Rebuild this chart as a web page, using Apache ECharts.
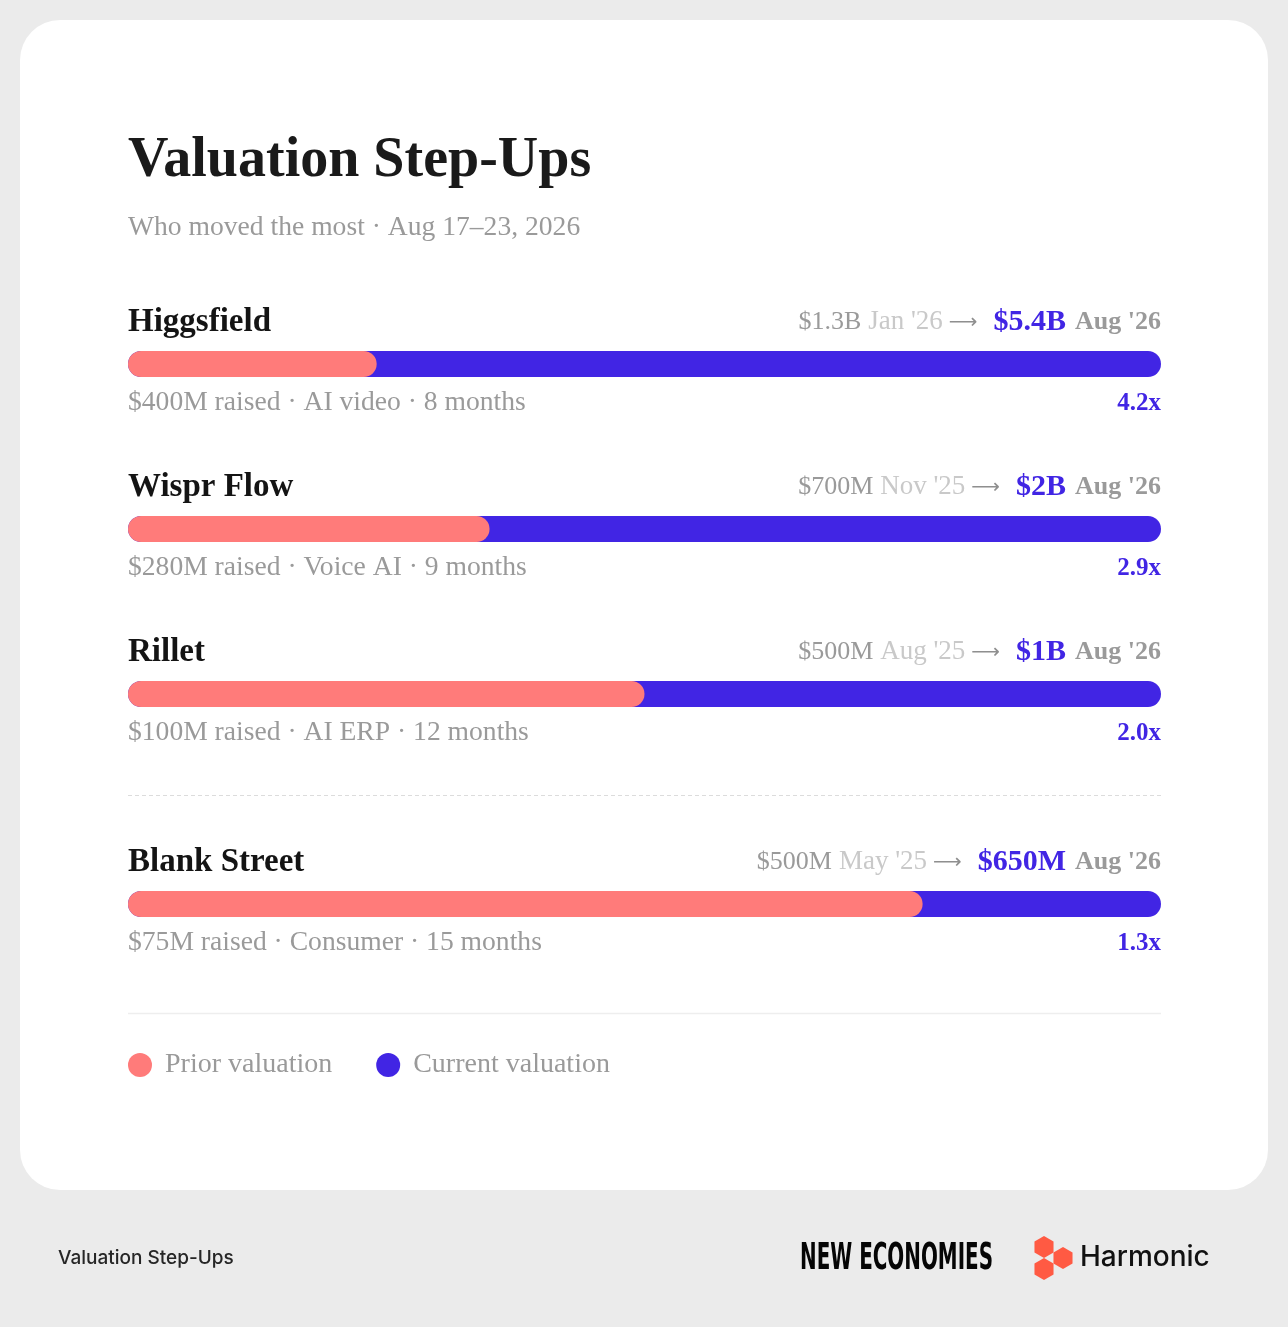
<!DOCTYPE html>
<html>
<head>
<meta charset="utf-8">
<script src="https://cdn.jsdelivr.net/npm/echarts@6/dist/echarts.min.js"></script>
<style>
  html, body { margin: 0; padding: 0; background: #ebebeb; }
  #chart { width: 1288px; height: 1327px; }
</style>
</head>
<body>
<div id="chart"></div>
<script>
// ---- Data ----
const companies = ['Higgsfield', 'Wispr Flow', 'Rillet', 'Blank Street'];
const priorValues = [1300, 700, 500, 500];      // $M
const currentValues = [5400, 2000, 1000, 650];  // $M
const priorDates = ["Jan '26", "Nov '25", "Aug '25", "May '25"];
const currentDates = ["Aug '26", "Aug '26", "Aug '26", "Aug '26"];
const raisedAmounts = ['$400M', '$280M', '$100M', '$75M'];
const sectors = ['AI video', 'Voice AI', 'AI ERP', 'Consumer'];
const monthsBetween = [8, 9, 12, 15];
const legendNames = ['Prior valuation', 'Current valuation'];
const titleText = 'Valuation Step-Ups';
const subtitleText = 'Who moved the most · Aug 17–23, 2026';

// ---- Style ----
const CORAL = '#FF7B7A';
const BLUE = '#4125E4';
const SERIF = '"Liberation Serif", "Times New Roman", serif';
const SANS = 'Inter, "Liberation Sans", Arial, sans-serif';
const LEFT = 128, RIGHT_X = 1161, BAR_H = 26;

function fmtMoney(v) { return v >= 1000 ? '$' + (v / 1000) + 'B' : '$' + v + 'M'; }
function barTop(i) { return 351 + i * 165 + (i >= 3 ? 45 : 0); }

const chart = echarts.init(document.getElementById('chart'), null, { renderer: 'canvas' });

const grids = [], xAxes = [], yAxes = [], series = [];
companies.forEach((c, i) => {
  grids.push({ left: LEFT, width: RIGHT_X - LEFT, top: barTop(i), height: BAR_H });
  xAxes.push({ type: 'value', gridIndex: i, min: 0, max: currentValues[i], show: false });
  yAxes.push({ type: 'category', gridIndex: i, data: [c], show: false });
  series.push({
    type: 'bar', name: legendNames[1], xAxisIndex: i, yAxisIndex: i,
    data: [currentValues[i]], barWidth: BAR_H, silent: true,
    itemStyle: { color: BLUE, borderRadius: BAR_H / 2 }
  });
  series.push({
    type: 'bar', name: legendNames[0], xAxisIndex: i, yAxisIndex: i,
    data: [priorValues[i]], barWidth: BAR_H, barGap: '-100%', silent: true,
    itemStyle: { color: CORAL, borderRadius: BAR_H / 2 }
  });
});

const graphics = [];
// card
graphics.push({ type: 'rect', z: 0, silent: true,
  shape: { x: 20, y: 20, width: 1248, height: 1170, r: 40 }, style: { fill: '#ffffff' } });
// title & subtitle
graphics.push({ type: 'text', x: LEFT, y: 162, style: { text: titleText, fontSize: 56, fontWeight: 'bold',
  fontFamily: SERIF, fill: '#1a1a1a', align: 'left', verticalAlign: 'middle' } });
graphics.push({ type: 'text', x: LEFT, y: 228, style: { text: subtitleText, fontSize: 27.6,
  fontFamily: SERIF, fill: '#9a9a9a', align: 'left', verticalAlign: 'middle' } });

companies.forEach((c, i) => {
  const t = barTop(i);
  graphics.push({ type: 'text', x: LEFT, y: t - 29, style: { text: c, fontSize: 33, fontWeight: 'bold',
    fontFamily: SERIF, fill: '#141414', align: 'left', verticalAlign: 'middle' } });
  graphics.push({ type: 'text', x: RIGHT_X, y: t - 29, style: {
    text: '{a|' + fmtMoney(priorValues[i]) + '}{b|' + priorDates[i] + '}{c|⟶}{d|' + fmtMoney(currentValues[i]) + '}{e|' + currentDates[i] + '}',
    align: 'right', verticalAlign: 'middle',
    rich: {
      a: { fontSize: 26, fontFamily: SERIF, fill: '#9a9a9a', color: '#9a9a9a', padding: [0, 7, 0, 0] },
      b: { fontSize: 27, fontFamily: SERIF, fill: '#c9c9c9', color: '#c9c9c9', padding: [0, 6, 0, 0] },
      c: { fontSize: 20, fontFamily: '"DejaVu Sans", sans-serif', fill: '#8f8f8f', color: '#8f8f8f', padding: [2, 16, 0, 0] },
      d: { fontSize: 30, fontWeight: 'bold', fontFamily: SERIF, fill: BLUE, color: BLUE, padding: [0, 9, 0, 0] },
      e: { fontSize: 26, fontWeight: 'bold', fontFamily: SERIF, fill: '#9a9a9a', color: '#9a9a9a' }
    } } });
  graphics.push({ type: 'text', x: LEFT, y: t + 52, style: {
    text: raisedAmounts[i] + ' raised · ' + sectors[i] + ' · ' + monthsBetween[i] + ' months',
    fontSize: 27.6, fontFamily: SERIF, fill: '#9a9a9a', align: 'left', verticalAlign: 'middle' } });
  graphics.push({ type: 'text', x: RIGHT_X, y: t + 53, style: {
    text: (currentValues[i] / priorValues[i]).toFixed(1) + 'x',
    fontSize: 25, fontWeight: 'bold', fontFamily: SERIF, fill: BLUE, align: 'right', verticalAlign: 'middle' } });
});

// separators
graphics.push({ type: 'line', shape: { x1: LEFT, y1: 795.5, x2: RIGHT_X, y2: 795.5 },
  style: { stroke: '#dcdcdc', lineWidth: 1, lineDash: [4, 3] } });
graphics.push({ type: 'line', shape: { x1: LEFT, y1: 1013.5, x2: RIGHT_X, y2: 1013.5 },
  style: { stroke: '#eeeeee', lineWidth: 1.5 } });

// footer
graphics.push({ type: 'text', x: 58, y: 1258, style: { text: titleText, fontSize: 19, fontWeight: 500,
  fontFamily: SANS, fill: '#262626', align: 'left', verticalAlign: 'middle' } });
const neFont = '"DejaVu Sans Condensed", "DejaVu Sans", sans-serif';
const mctx = document.createElement('canvas').getContext('2d');
mctx.font = 'bold 38px ' + neFont;
const neW = mctx.measureText('NEW ECONOMIES').width || 300;
graphics.push({ type: 'text', x: 800, y: 1259, scaleX: 193 / neW, style: { text: 'NEW ECONOMIES', fontSize: 38,
  fontWeight: 'bold', fontFamily: neFont, fill: '#050505', align: 'left', verticalAlign: 'middle' } });
function hex(cx, cy, r) {
  const pts = [];
  for (let k = 0; k < 6; k++) {
    const a = Math.PI / 2 + k * Math.PI / 3;
    pts.push([cx + r * Math.cos(a), cy + r * Math.sin(a)]);
  }
  return pts;
}
[[1044, 1247], [1063, 1258], [1044, 1269]].forEach(p => {
  graphics.push({ type: 'polygon', shape: { points: hex(p[0], p[1], 11) }, style: { fill: '#FF5A43' } });
});
graphics.push({ type: 'text', x: 1080, y: 1258, style: { text: 'Harmonic', fontSize: 28, fontWeight: 500,
  fontFamily: SANS, fill: '#111111', align: 'left', verticalAlign: 'middle' } });

chart.setOption({
  animation: false,
  backgroundColor: '#ebebeb',
  grid: grids,
  xAxis: xAxes,
  yAxis: yAxes,
  series: series,
  legend: {
    data: legendNames.map(n => ({ name: n, icon: 'circle' })),
    left: 123, top: 1046, itemWidth: 40, itemHeight: 24, itemGap: 44,
    selectedMode: false,
    textStyle: { fontSize: 28, fontFamily: SERIF, color: '#9a9a9a' }
  },
  graphic: { elements: graphics }
});
</script>
</body>
</html>
